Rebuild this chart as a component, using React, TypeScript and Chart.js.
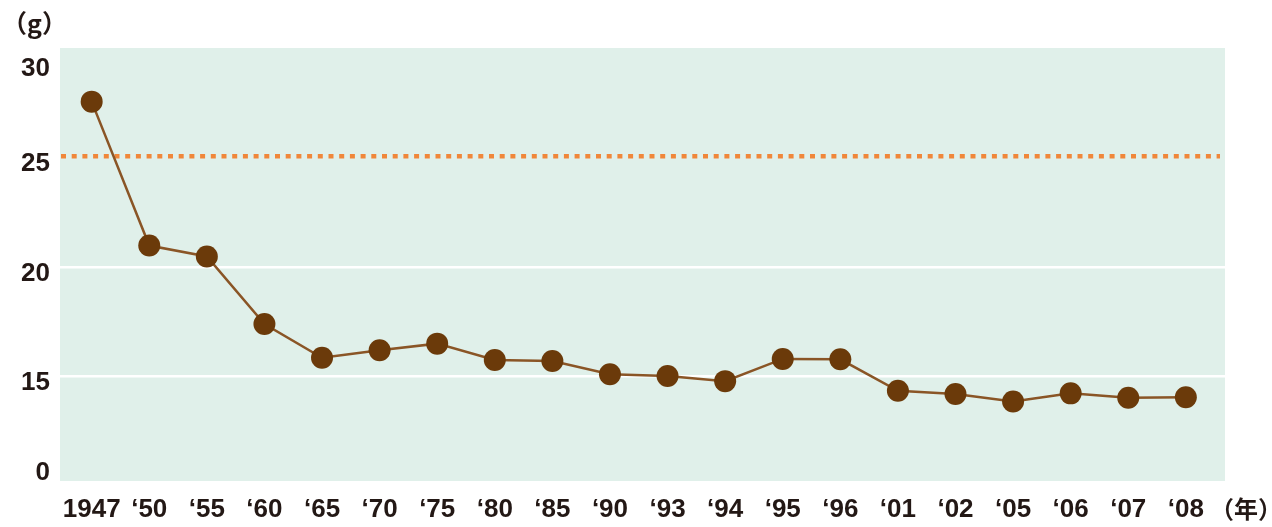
import React, { useEffect, useRef } from "react";
import { Chart, registerables } from "chart.js";

Chart.register(...registerables);

const categories = [
  "1947", "‘50", "‘55", "‘60", "‘65", "‘70", "‘75", "‘80", "‘85", "‘90",
  "‘93", "‘94", "‘95", "‘96", "‘01", "‘02", "‘05", "‘06", "‘07", "‘08",
];
const values = [
  27.6, 21.0, 20.5, 17.4, 15.85, 16.2, 16.5, 15.75, 15.7, 15.1,
  15.02, 14.78, 15.8, 15.78, 14.34, 14.19, 13.85, 14.22, 14.02, 14.04,
];
// broken axis: "0" is drawn just below the 15 line
const yTickValues = [10.85, 15, 20, 25, 29.4];
const yTickLabels = ["0", "15", "20", "25", "30"];
const gridValues = [15, 20];
const targetValue = 25.1;
const yUnit = "（g）";
const xUnit = "（年）";

const TEXT = "#231815";
const LABEL_FONT = { family: "'Liberation Sans', Arial, sans-serif", size: 26, weight: "bold" as const };

export default function App() {
  const ref = useRef<HTMLCanvasElement | null>(null);

  useEffect(() => {
    const canvas = ref.current;
    if (!canvas) return;

    const decor = {
      id: "decor",
      beforeDraw(chart: any) {
        const { ctx, chartArea } = chart;
        ctx.save();
        ctx.fillStyle = "#e0f0ea";
        ctx.fillRect(chartArea.left, chartArea.top, chartArea.right - chartArea.left, chartArea.bottom - chartArea.top);
        ctx.restore();
      },
      beforeDatasetsDraw(chart: any) {
        const { ctx, chartArea, scales } = chart;
        const y = scales.y.getPixelForValue(targetValue);
        ctx.save();
        ctx.strokeStyle = "#f0873a";
        ctx.lineWidth = 4.5;
        ctx.setLineDash([5, 5.7]);
        ctx.beginPath();
        ctx.moveTo(chartArea.left + 1, y);
        ctx.lineTo(chartArea.right - 5, y);
        ctx.stroke();
        ctx.restore();
      },
      afterDraw(chart: any) {
        const { ctx } = chart;
        ctx.save();
        ctx.fillStyle = TEXT;
        ctx.textBaseline = "middle";
        ctx.textAlign = "left";
        ctx.font = "bold 25px 'Noto Sans CJK JP'";
        ctx.fillText(yUnit, 2, 23);
        ctx.font = "bold 24px 'Noto Sans CJK JP'";
        ctx.fillText(xUnit, 1210, 509);
        ctx.restore();
      },
    };

    const chart = new Chart(canvas, {
      type: "line",
      data: {
        datasets: [
          {
            data: values.map((v, i) => ({ x: i, y: v })),
            borderColor: "#8a5526",
            borderWidth: 2.5,
            pointRadius: 11,
            pointHoverRadius: 11,
            pointBackgroundColor: "#6b3a0a",
            pointBorderWidth: 0,
            tension: 0,
          },
        ],
      },
      options: {
        animation: false,
        responsive: false,
        devicePixelRatio: 1,
        layout: { padding: { top: 48, right: 47, left: 0, bottom: 0 } },
        plugins: { legend: { display: false }, tooltip: { enabled: false } },
        scales: {
          x: {
            type: "linear",
            min: -0.55,
            max: 19.68,
            grid: { display: false, drawTicks: false },
            border: { display: false },
            afterBuildTicks: (s: any) => {
              s.ticks = categories.map((_, i) => ({ value: i }));
            },
            afterFit: (s: any) => {
              s.height = 46;
            },
            ticks: {
              autoSkip: false,
              maxRotation: 0,
              padding: 13,
              color: TEXT,
              font: LABEL_FONT,
              callback: (v: any) => categories[Math.round(Number(v))] ?? "",
            },
          },
          y: {
            type: "linear",
            min: 10.2,
            max: 30.06,
            border: { display: false },
            grid: {
              drawTicks: false,
              lineWidth: 2.5,
              color: (c: any) => (c.tick && gridValues.includes(c.tick.value) ? "#ffffff" : "rgba(0,0,0,0)"),
            },
            afterBuildTicks: (s: any) => {
              s.ticks = yTickValues.map((v) => ({ value: v }));
            },
            afterFit: (s: any) => {
              s.width = 60;
            },
            ticks: {
              padding: 10,
              labelOffset: 6,
              color: TEXT,
              font: LABEL_FONT,
              callback: (v: any) => {
                const i = yTickValues.indexOf(Number(v));
                return i >= 0 ? yTickLabels[i] : "";
              },
            },
          },
        },
      },
      plugins: [decor],
    });

    return () => chart.destroy();
  }, []);

  return (
    <div style={{ position: "fixed", left: 0, top: 0, width: 1272, height: 527, background: "#fff" }}>
      <canvas ref={ref} width={1272} height={527} style={{ display: "block", width: 1272, height: 527 }} />
    </div>
  );
}
